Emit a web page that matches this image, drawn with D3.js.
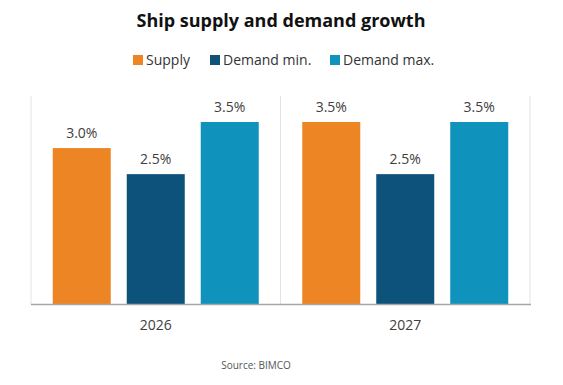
<!DOCTYPE html>
<html>
<head>
<meta charset="utf-8">
<script src="https://cdnjs.cloudflare.com/ajax/libs/d3/7.8.5/d3.min.js"></script>
<style>
body { margin: 0; background: #fff; }
text { font-family: "Open Sans", "Noto Sans", sans-serif; }
</style>
</head>
<body>
<div id="chart"></div>
<script>
var years = ["2026", "2027"];
var series = ["Supply", "Demand min.", "Demand max."];
var supply = [3.0, 3.5];
var demandMin = [2.5, 2.5];
var demandMax = [3.5, 3.5];
var colors = ["#EE8524", "#0D527B", "#0F92BC"];

var width = 563;
var height = 385;
var plotTop = 96;
var baseY = 304.5;

var svg = d3.select('#chart')
	.append('svg')
		.attr('width', width)
		.attr('height', height);

svg.append('text')
	.attr('x', 281)
	.attr('y', 27)
	.attr('text-anchor', 'middle')
	.style('font-size', '18px')
	.style('font-weight', 'bold')
	.style('fill', '#111')
	.text('Ship supply and demand growth');

// legend
var legendX = [133, 210, 330];
var legend = svg.selectAll('.legend')
	.data(series)
	.enter()
		.append('g')
		.attr('class', 'legend')
		.attr('transform', function(d, i) { return 'translate(' + legendX[i] + ',55)'; });

legend.append('rect')
	.attr('width', 10)
	.attr('height', 10)
	.style('fill', function(d, i) { return colors[i]; });

legend.append('text')
	.attr('x', 13)
	.attr('y', 10)
	.style('font-size', '14px')
	.style('fill', '#333')
	.text(function(d) { return d; });

var x0 = d3.scaleBand()
	.domain(years)
	.range([31, 530]);

var x1 = d3.scaleBand()
	.domain(series)
	.range([0, x0.bandwidth()])
	.paddingInner(0.216)
	.paddingOuter(0.294);

var y = d3.scaleLinear()
	.domain([0, 3.5])
	.range([baseY, 122]);

// separators
var edges = years.map(function(d) { return x0(d); });
edges.push(x0(years[years.length - 1]) + x0.bandwidth());
svg.selectAll('.sep')
	.data(edges)
	.enter()
		.append('line')
		.attr('x1', function(d) { return d; })
		.attr('x2', function(d) { return d; })
		.attr('y1', plotTop)
		.attr('y2', baseY)
		.style('stroke', '#e3e3e3')
		.style('stroke-width', 1);

var rows = years.map(function(yr, i) {
	return { year: yr, vals: [supply[i], demandMin[i], demandMax[i]] };
});

var groups = svg.selectAll('.grp')
	.data(rows)
	.enter()
		.append('g')
		.attr('transform', function(d) { return 'translate(' + x0(d.year) + ',0)'; });

var bars = groups.selectAll('rect')
	.data(function(d) { return d.vals.map(function(v, i) { return { s: series[i], v: v, i: i }; }); })
	.enter();

bars.append('rect')
	.attr('x', function(d) { return x1(d.s); })
	.attr('y', function(d) { return y(d.v); })
	.attr('width', x1.bandwidth())
	.attr('height', function(d) { return baseY - y(d.v); })
	.style('fill', function(d) { return colors[d.i]; });

bars.append('text')
	.attr('x', function(d) { return x1(d.s) + x1.bandwidth() / 2; })
	.attr('y', function(d) { return y(d.v) - 10; })
	.attr('text-anchor', 'middle')
	.style('font-size', '14px')
	.style('fill', '#404040')
	.text(function(d) { return d.v.toFixed(1) + '%'; });

// baseline
svg.append('line')
	.attr('x1', 31)
	.attr('x2', 531)
	.attr('y1', baseY)
	.attr('y2', baseY)
	.style('stroke', '#a6a6a6')
	.style('stroke-width', 1.5);

svg.selectAll('.xlab')
	.data(years)
	.enter()
		.append('text')
		.attr('x', function(d) { return x0(d) + x0.bandwidth() / 2; })
		.attr('y', 330)
		.attr('text-anchor', 'middle')
		.style('font-size', '14px')
		.style('fill', '#404040')
		.text(function(d) { return d; });

svg.append('text')
	.attr('x', 256)
	.attr('y', 369)
	.attr('text-anchor', 'middle')
	.style('font-size', '10px')
	.style('fill', '#555')
	.text('Source: BIMCO');
</script>
</body>
</html>
